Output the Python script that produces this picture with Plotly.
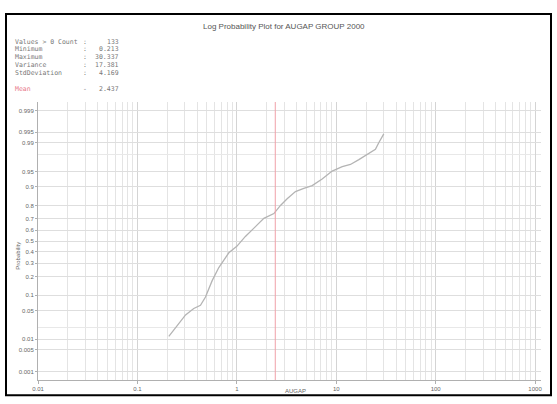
import plotly.graph_objects as go
from statistics import NormalDist

# ---- data ----
values = [0.207, 0.242, 0.305, 0.369, 0.431, 0.484, 0.565, 0.659, 0.831, 1.0,
          1.22, 1.54, 1.87, 2.36, 2.75, 3.21, 3.89, 4.72, 5.73, 7.22,
          9.1, 11.5, 13.9, 16.9, 20.5, 24.8, 26.8, 30.1]
probs = [0.012, 0.0196, 0.040, 0.055, 0.064, 0.0925, 0.174, 0.265, 0.39, 0.45,
         0.543, 0.633, 0.704, 0.742, 0.80, 0.841, 0.879, 0.894, 0.905, 0.929,
         0.951, 0.961, 0.965, 0.973, 0.980, 0.985, 0.990, 0.9944]
mean_value = 2.437

x_ticks = [0.01, 0.1, 1, 10, 100, 1000]
x_tick_labels = ["0.01", "0.1", "1", "10", "100", "1000"]
y_ticks = [0.001, 0.005, 0.01, 0.05, 0.1, 0.2, 0.3, 0.4, 0.5, 0.6, 0.7, 0.8,
           0.9, 0.95, 0.99, 0.995, 0.999]
y_tick_labels = ["0.001", "0.005", "0.01", "0.05", "0.1", "0.2", "0.3", "0.4", "0.5",
                 "0.6", "0.7", "0.8", "0.9", "0.95", "0.99", "0.995", "0.999"]
y_minor = [0.02, 0.98]

stat_names = ["Values > 0 Count", "Minimum", "Maximum", "Variance", "StdDeviation"]
stat_values = ["133", "0.213", "30.337", "17.381", "4.169"]

title = "Log Probability Plot for AUGAP GROUP 2000"
x_title = "AUGAP"
y_title = "Probability"

nd = NormalDist()
z = lambda p: nd.inv_cdf(p)

W, H = 557, 404
L, R, T, B = 38, 541, 101.5, 384.5


def px(x):
    return (x - L) / (R - L)


def py(y):
    return (B - y) / (B - T)


fig = go.Figure()
fig.add_trace(go.Scatter(
    x=values, y=[z(p) for p in probs], mode="lines",
    line=dict(color="#b4b4b4", width=1.3), hoverinfo="skip", showlegend=False))

fig.add_shape(type="line", xref="x", yref="paper", x0=mean_value, x1=mean_value,
              y0=0, y1=1, line=dict(color="#f0a0a8", width=1))

# outer frame
fig.add_shape(type="rect", xref="paper", yref="paper",
              x0=px(6), x1=px(551), y0=py(400), y1=py(12),
              line=dict(color="black", width=2), layer="below")

minor_x = [m * 10 ** e for e in range(-2, 3) for m in range(2, 10)]

mono = "DejaVu Sans Mono"
ann = []


def add(text, x, y, xanchor="center", font=None, **kw):
    ann.append(dict(text=text, x=px(x), y=py(y), xref="paper", yref="paper",
                    xanchor=xanchor, yanchor="middle", showarrow=False,
                    font=font, **kw))


sfont = dict(family=mono, size=6.5, color="#777")
add(title, 284, 25, font=dict(family="Liberation Sans", size=8, color="#555"))
for i, (n, v) in enumerate(zip(stat_names, stat_values)):
    yy = 40 + i * 8
    add(n, 13, yy, "left", sfont)
    add(":", 85, yy, "center", sfont)
    add(v, 121, yy, "right", sfont)
add("Mean", 13, 88, "left", dict(family=mono, size=6.5, color="#e87888"))
add("-", 85, 88, "center", sfont)
add(f"{mean_value:.3f}", 121, 88, "right", sfont)
add(x_title, 295, 396, font=dict(family="Liberation Sans", size=6, color="#666"))
add(y_title, 18, 258, font=dict(family="Liberation Sans", size=6, color="#666"),
    textangle=-90)

zr = z(0.0005)
fig.update_layout(
    width=W, height=H, margin=dict(l=L, r=W - R, t=T, b=H - B),
    paper_bgcolor="white", plot_bgcolor="white",
    annotations=ann,
    xaxis=dict(type="log", range=[-2, 3.06], tickvals=x_ticks, ticktext=x_tick_labels,
               showgrid=True, gridcolor="#d4d4d4", gridwidth=1,
               minor=dict(tickvals=minor_x, showgrid=True, gridcolor="#e4e4e4", gridwidth=1),
               showline=True, linecolor="#b0b0b0", linewidth=1, mirror=False,
               ticks="outside", ticklen=3, tickcolor="#b0b0b0",
               tickfont=dict(family="Liberation Sans", size=6, color="#666"),
               zeroline=False),
    yaxis=dict(range=[-abs(zr), abs(zr)], tickvals=[z(p) for p in y_ticks],
               ticktext=y_tick_labels, showgrid=True, gridcolor="#dedede", gridwidth=1,
               minor=dict(tickvals=[z(p) for p in y_minor], showgrid=True,
                          gridcolor="#e8e8e8"),
               showline=True, linecolor="#b0b0b0", linewidth=1,
               ticks="outside", ticklen=2, tickcolor="#b0b0b0",
               tickfont=dict(family="Liberation Sans", size=6, color="#666"),
               zeroline=False),
)

fig.write_html("out.html")
